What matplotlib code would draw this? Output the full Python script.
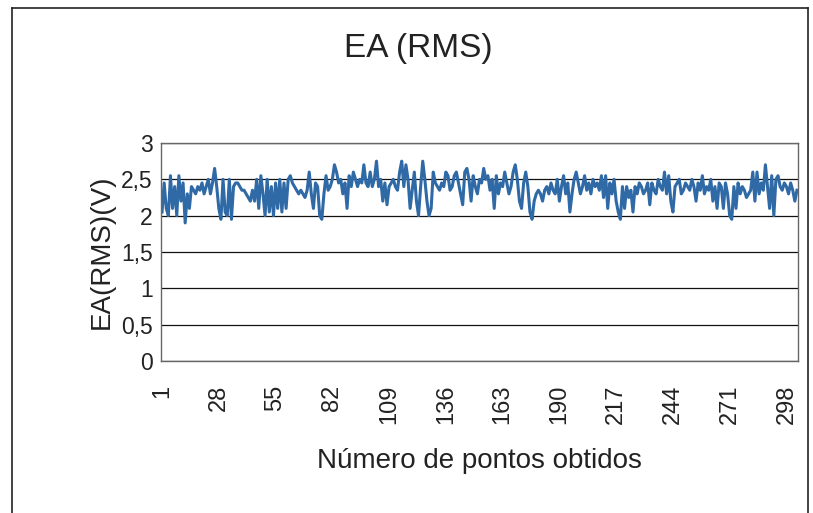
import matplotlib
matplotlib.use("Agg")
import matplotlib.pyplot as plt
from matplotlib.lines import Line2D
import numpy as np

plt.rcParams['font.family'] = ['Liberation Sans', 'DejaVu Sans']

title = "EA (RMS)"
x_label = "Número de pontos obtidos"
y_label = "EA(RMS)(V)"
y_ticks = [0, 0.5, 1, 1.5, 2, 2.5, 3]
x_tick_step = 27

# RMS voltage readings, in acquisition order
ea_rms = [
    2.05, 2.45, 2.1, 2.0, 2.55, 2.1, 2.4, 2.0, 2.55, 2.2, 2.45, 1.9, 2.3, 2.1, 2.4, 2.35, 2.3, 2.4,
    2.35, 2.45, 2.3, 2.4, 2.5, 2.3, 2.45, 2.65, 2.4, 2.1, 1.95, 2.5, 2.05, 2.0, 2.5, 1.95, 2.4, 2.45,
    2.45, 2.4, 2.35, 2.35, 2.3, 2.25, 2.2, 2.35, 2.2, 2.5, 2.1, 2.55, 2.3, 2.0, 2.5, 2.05,
    2.4, 2.0, 2.45, 2.1, 2.5, 2.05, 2.45, 2.1, 2.5, 2.55, 2.45, 2.4, 2.35, 2.3, 2.35, 2.3, 2.25, 2.35,
    2.6, 2.3, 2.1, 2.45, 2.4, 2.0, 1.95, 2.3, 2.55, 2.35, 2.4, 2.5, 2.7, 2.6, 2.45, 2.5, 2.3, 2.45,
    2.1, 2.55, 2.4, 2.6, 2.5, 2.4, 2.5, 2.45, 2.7, 2.45, 2.4, 2.6, 2.4, 2.5, 2.75, 2.4,
    2.5, 2.2, 2.45, 2.15, 2.4, 2.45, 2.5, 2.4, 2.35, 2.6, 2.75, 2.4, 2.7, 2.5, 2.1, 2.35, 2.6, 2.2,
    2.0, 2.4, 2.75, 2.5, 2.2, 2.0, 2.1, 2.6, 2.45, 2.4, 2.35, 2.45, 2.4, 2.6, 2.55, 2.35, 2.4, 2.55,
    2.6, 2.45, 2.3, 2.15, 2.6, 2.65, 2.5, 2.2, 2.55, 2.4, 2.3, 2.5, 2.45, 2.65, 2.5, 2.55,
    2.35, 2.5, 2.1, 2.55, 2.3, 2.45, 2.4, 2.6, 2.45, 2.3, 2.4, 2.6, 2.7, 2.5, 2.2, 2.1, 2.45, 2.6,
    2.4, 2.05, 1.95, 2.2, 2.3, 2.35, 2.3, 2.2, 2.35, 2.4, 2.3, 2.45, 2.35, 2.3, 2.5, 2.2, 2.4, 2.55,
    2.3, 2.45, 2.05, 2.3, 2.5, 2.6, 2.45, 2.3, 2.4, 2.55, 2.35, 2.45, 2.3, 2.5, 2.4, 2.45,
    2.35, 2.55, 2.25, 2.55, 2.1, 2.45, 2.3, 2.5, 2.2, 2.05, 1.95, 2.4, 2.1, 2.4, 2.25, 2.35, 2.05, 2.4,
    2.3, 2.45, 2.4, 2.3, 2.35, 2.45, 2.15, 2.45, 2.35, 2.3, 2.5, 2.4, 2.35, 2.6, 2.3, 2.55, 2.2, 2.05,
    2.4, 2.45, 2.5, 2.3, 2.35, 2.45, 2.4, 2.35, 2.5, 2.4, 2.2, 2.45, 2.35, 2.55, 2.3, 2.4,
    2.35, 2.5, 2.2, 2.4, 2.1, 2.45, 2.4, 2.1, 2.45, 2.3, 2.0, 1.95, 2.4, 2.1, 2.45, 2.3, 2.4, 2.35,
    2.25, 2.3, 2.35, 2.6, 2.2, 2.6, 2.3, 2.45, 2.35, 2.7, 2.4, 2.1, 2.55, 2.0, 2.5, 2.55, 2.4, 2.35,
    2.45, 2.4, 2.3, 2.45, 2.35, 2.2, 2.35,
]

n = len(ea_rms)
points = np.arange(1, n + 1)

W, H = 813, 513
fig = plt.figure(figsize=(W / 100, H / 100), dpi=100)
fig.patch.set_facecolor("white")

# chart-area border (top, left, right)
for xs, ys in [((12, 808), (H - 8, H - 8)), ((12, 12), (0, H - 8)), ((808, 808), (0, H - 8))]:
    fig.add_artist(Line2D([x / W for x in xs], [y / H for y in ys],
                          transform=fig.transFigure, color="#222222", lw=1.2))

L, R, T, B = 161, 798, 143, 361
ax = fig.add_axes([L / W, (H - B) / H, (R - L) / W, (B - T) / H])

ax.plot(points, ea_rms, color="#2f6aa6", lw=2.2, solid_joinstyle="round")

ax.set_xlim(0.5, n + 0.5)
ax.set_ylim(0, 3)
ax.set_yticks(y_ticks)
ax.set_yticklabels([f"{v:g}".replace(".", ",") for v in y_ticks], fontsize=16.5)
xt = list(range(1, n + 1, x_tick_step))
ax.set_xticks(xt)
ax.set_xticklabels([str(v) for v in xt], rotation=90, fontsize=17)
ax.tick_params(axis="both", length=0, colors="#222222")
ax.tick_params(axis="y", pad=6)
ax.tick_params(axis="x", pad=17)

ax.grid(axis="y", color="#111111", lw=0.9)
ax.set_axisbelow(True)
for s in ax.spines.values():
    s.set_color("#666666")
    s.set_linewidth(1.0)

ax.set_xlabel(x_label, fontsize=20, color="#222222")
ax.xaxis.set_label_coords(0.5, -0.40)
ax.set_ylabel(y_label, fontsize=20, color="#222222")
ax.yaxis.set_label_coords(-0.073, 0.5)

fig.text(418 / W, 1 - 48 / H, title, fontsize=24, ha="center", va="center", color="#222222")

fig.savefig("out.png", dpi=100)
